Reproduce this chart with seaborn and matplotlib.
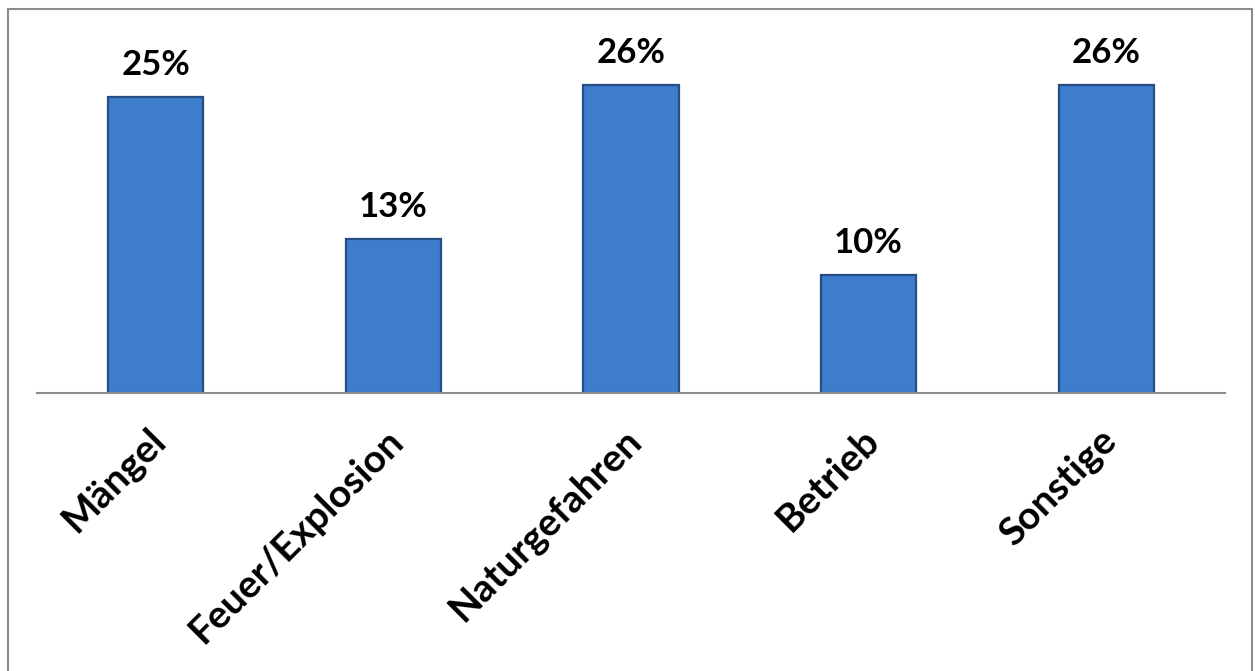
import matplotlib
matplotlib.use("Agg")
import matplotlib.pyplot as plt
import matplotlib.transforms as mtransforms
import seaborn as sns
import pandas as pd
from matplotlib.patches import Rectangle

categories = ["Mängel", "Feuer/Explosion", "Naturgefahren", "Betrieb", "Sonstige"]
values = [0.25, 0.13, 0.26, 0.10, 0.26]
value_labels = ["25%", "13%", "26%", "10%", "26%"]

sns.set_theme(style="white")
plt.rcParams['font.family'] = ['Lato', 'DejaVu Sans']

df = pd.DataFrame({"cat": categories, "val": values})

fig = plt.figure(figsize=(12.55, 6.71), dpi=100)
ax = fig.add_axes([37/1255, 1-393/671, (1225-37)/1255, (393-38)/671])

sns.barplot(data=df, x="cat", y="val", ax=ax, color="#3E7DCC", width=0.40,
            edgecolor="#254E86", linewidth=1.6, saturation=1)

ax.set_ylim(0, 0.30)
ax.set_xlim(-0.5, 4.5)
ax.set_xlabel("")
ax.set_ylabel("")
ax.set_yticks([])
for s in ["top", "right", "left"]:
    ax.spines[s].set_visible(False)
ax.spines["bottom"].set_color("#8C8C8C")
ax.spines["bottom"].set_linewidth(1.5)

ax.tick_params(axis="x", length=0, pad=21)
ax.set_xticks(range(len(categories)))
ax.set_xticklabels(categories, rotation=45, ha="right", va="top",
                   rotation_mode="anchor", fontsize=28, fontweight="bold",
                   color="black")
offset = mtransforms.ScaledTranslation(-8/100, 0, fig.dpi_scale_trans)
for lbl in ax.get_xticklabels():
    lbl.set_transform(lbl.get_transform() + offset)

for i, (v, lab) in enumerate(zip(values, value_labels)):
    ax.annotate(lab, (i, v), xytext=(0, 23), textcoords="offset points",
                ha="center", va="center", fontsize=25, fontweight="bold",
                color="black")

fig.patches.append(Rectangle((8/1255, -0.01), (1252-8)/1255, 1 - 9/671 + 0.01,
                             transform=fig.transFigure, fill=False,
                             edgecolor="#8C8C8C", linewidth=1.5))

fig.savefig("out.png", dpi=100)
